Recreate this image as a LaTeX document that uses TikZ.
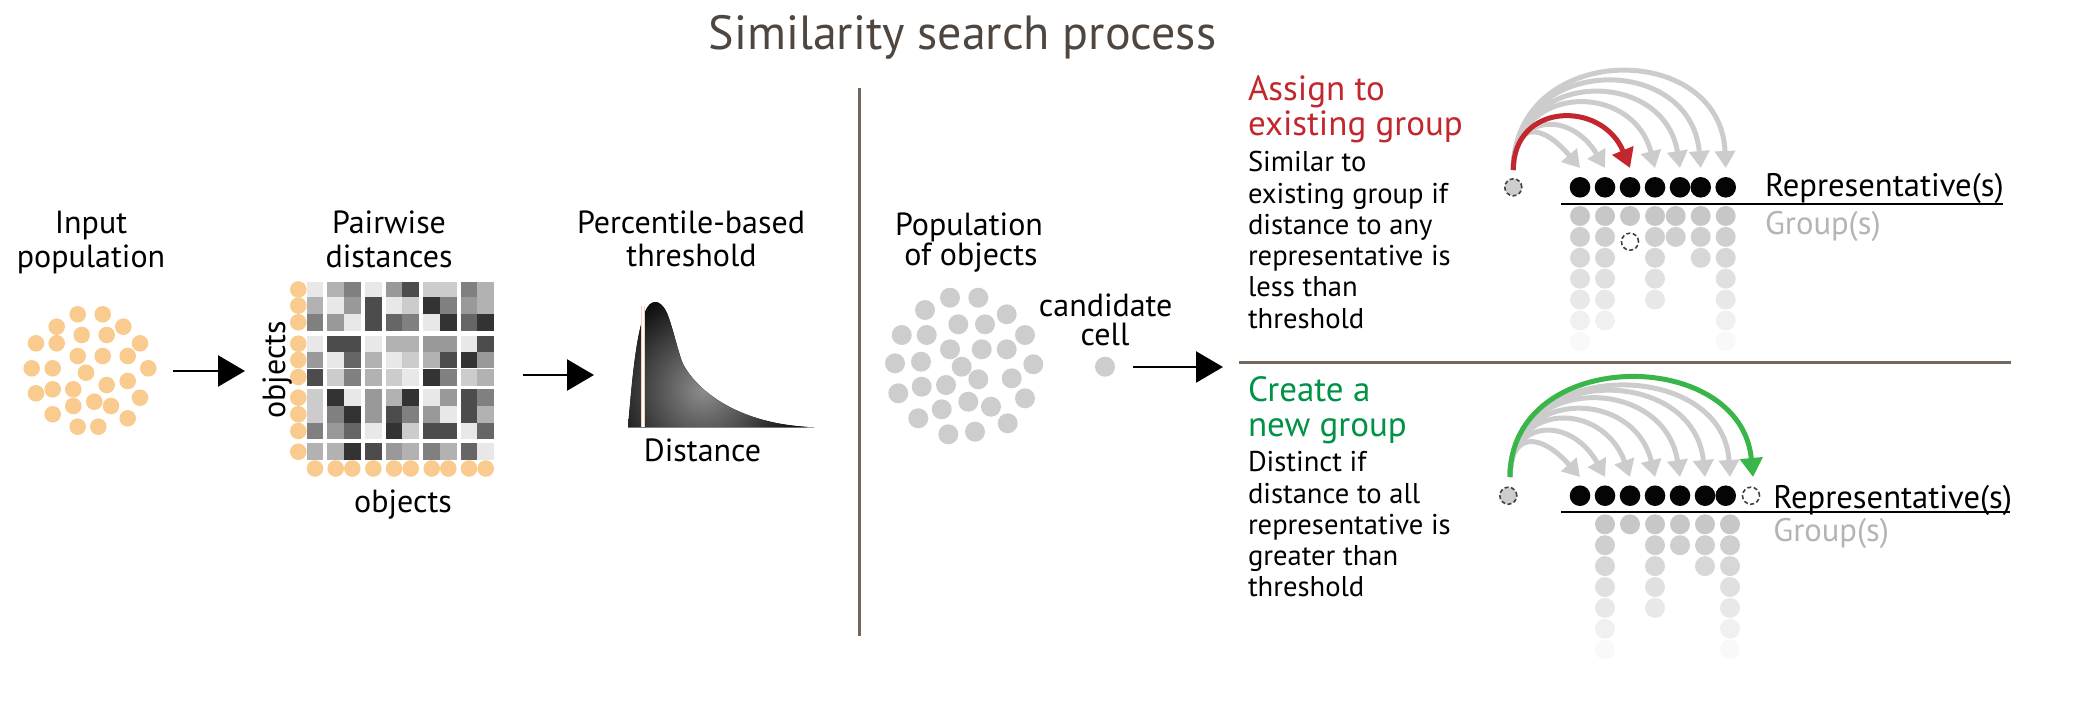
\documentclass[tikz,border=0pt]{standalone}
\usepackage{fontspec}
\setmainfont{PT Sans}
\usetikzlibrary{arrows.meta}
\definecolor{orng}{RGB}{250,203,142}
\definecolor{lgray}{RGB}{205,205,205}
\definecolor{grpgray}{RGB}{196,196,196}
\definecolor{arcgray}{RGB}{204,204,204}
\definecolor{myred}{RGB}{193,39,45}
\definecolor{mygreen}{RGB}{57,181,74}
\definecolor{txtgreen}{RGB}{0,146,69}
\definecolor{divbrown}{RGB}{117,102,92}
\definecolor{titlec}{RGB}{80,70,64}
\definecolor{grptxt}{RGB}{180,180,180}
\definecolor{peach}{RGB}{245,205,185}
\newcommand\matrowx[2]{%
  \foreach \v [count=\c] in {#2} {%
    \pgfmathsetmacro\cx{{306.7,327.3,344,365,385.7,402.3,423.3,440,460.7,477.3}[\c-1]}%
    \fill[black!\v] (\cx,#1) rectangle ++(16.7,16.6);
  }}
\newcommand\grpcolx[3]{%
  \foreach \k in {1,...,#3} {%
    \pgfmathsetmacro\op{max(0.95-0.14*(\k-1),0.08)}%
    \fill[grpgray, opacity=\op] ({#1},{#2+(\k-1)*20.9}) circle[radius=10pt];
  }}
\newcommand\twolines[3]{\vtop{\baselineskip=#1pt\lineskiplimit=-100pt\lineskip=0pt\hbox{#2}\hbox{#3}}}
\begin{document}
\begin{tikzpicture}[x=1pt,y=-1pt,
  lbl/.style={font=\fontsize{32}{34}\selectfont, anchor=base, inner sep=0pt, outer sep=0pt},
  body/.style={font=\fontsize{28.6}{31}\selectfont, anchor=base west, inner sep=0pt, outer sep=0pt},
  headr/.style={font=\fontsize{35}{35}\selectfont, anchor=base west, inner sep=0pt, outer sep=0pt, text=myred},
  headg/.style={font=\fontsize{35}{35}\selectfont, anchor=base west, inner sep=0pt, outer sep=0pt, text=txtgreen},
  rep/.style={font=\fontsize{32.6}{34}\selectfont, anchor=base west, inner sep=0pt, outer sep=0pt},
  grp/.style={font=\fontsize{32.6}{34}\selectfont, anchor=base west, inner sep=0pt, outer sep=0pt, text=grptxt},
  bdot/.style={circle, fill=black!98, minimum size=20.6pt, inner sep=0pt},
  cand/.style={circle, fill=lgray, draw=black!75, line width=1.6pt, dash pattern=on 4pt off 2.5pt, minimum size=17pt, inner sep=0pt},
  newrep/.style={circle, draw=black!75, line width=1.6pt, dash pattern=on 4pt off 2.5pt, minimum size=17pt, inner sep=0pt},
  flow/.style={line width=2.5pt, -{Triangle[width=31pt,length=27pt]}},
  garc/.style={draw=arcgray, line width=5pt, -{Triangle[width=20pt,length=17pt]}},
  divider/.style={draw=divbrown, line width=3pt},
]
\useasboundingbox (0,0) rectangle (2078,715);

% title
\node[font=\fontsize{48}{50}\selectfont, text=titlec, anchor=base, inner sep=0pt] (title) at (962.6,49.7) {Similarity search process};

% dividers
\coordinate (vtop) at (859,88);
\coordinate (vbot) at (859,636);
\draw[divider] (vtop) -- (vbot);
\coordinate (hl) at (1239,362.7);
\coordinate (hr) at (2011,362.7);
\draw[divider] (hl) -- (hr);

% ---------- section 1: input population
\node[lbl] (inp1) at (91,233) {Input};
\node[lbl] (inp2) at (91,267) {population};
\foreach \p in {(77.7,314.3),(102.7,314.3),(56.7,326.7),(123.3,326.7),(36,343.3),(56.7,343.3),(81.7,335),(106.7,335),(140,343.3),(77.7,356),(102.7,356),(127.7,356),(31.7,368.3),(52.7,368.3),(86,372.7),(148.3,368.3),(36,393.3),(52.7,389.3),(73.3,389.3),(106.7,385),(127.7,381),(140,397.7),(73.3,406),(94.3,401.7),(111,406),(52.7,414.3),(127.7,418.3),(77.7,426.7),(98.3,426.7)}
  \fill[orng] \p circle[radius=8.3pt];
\coordinate (a1s) at (173,371);
\coordinate (a1e) at (245,371);
\draw[flow] (a1s) -- (a1e);

% ---------- section 2: pairwise distances
\node[lbl] (pw1) at (389,233) {Pairwise};
\node[lbl] (pw2) at (389,267) {distances};
\matrowx{281.7}{9,30,50,9,40,70,20,20,50,30}
\matrowx{297.3}{30,9,40,70,9,20,80,50,40,30}
\matrowx{314}{50,40,9,70,60,50,9,80,60,80}
\matrowx{335.7}{9,70,70,9,30,30,40,40,9,70}
\matrowx{351.7}{40,9,60,30,9,20,30,70,80,40}
\matrowx{369}{70,20,50,30,20,9,80,50,20,30}
\matrowx{389.3}{20,80,9,40,30,80,9,40,70,50}
\matrowx{406}{20,50,80,40,70,50,40,9,70,30}
\matrowx{422.7}{50,40,60,9,80,20,70,70,9,60}
\matrowx{443.3}{30,30,80,70,40,30,50,30,60,9}
\foreach \yy in {289.5,305.6,322.3,343.7,360,377,397.6,414.3,431,451.7}
  \fill[orng] (298.3,\yy) circle[radius=8.3pt];
\foreach \xx in {315,335.7,352.3,373.3,394,410.7,431.7,448.3,469,485.7}
  \fill[orng] (\xx,468.5) circle[radius=8.3pt];
\node[lbl, rotate=90] (objl) at (285,370) {objects};
\node[lbl] (objb) at (403,512) {objects};
\coordinate (a2s) at (523,375);
\coordinate (a2e) at (594,375);
\draw[flow] (a2s) -- (a2e);

% ---------- section 3: threshold
\node[lbl] (pc1) at (691,233) {Percentile-based};
\node[lbl] (pc2) at (691.5,266) {threshold};
\begin{scope}
\clip (628,427.3) .. controls (632,380) and (636,335) .. (645,312) .. controls (650,299) and (660,298) .. (667,313) .. controls (673,328) and (678,352) .. (683,364) .. controls (698,392) and (740,425) .. (815,427.3) -- cycle;
\fill[black] (620,290) rectangle (820,430);
\shade[inner color=black!45, outer color=black] (703,390) circle[radius=110pt];
\end{scope}
\draw[peach, line width=3.6pt] (642.7,306) -- (642.7,427.3);
\draw[white, line width=2.2pt] (642.7,306) -- (642.7,427.3);
\node[lbl] (dist) at (702.5,461.7) {Distance};

% ---------- section 4: population of objects
\node[lbl] (po1) at (969,235) {Population};
\node[lbl] (po2) at (971,265) {of objects};
\foreach \p in {(950,297.7),(978.3,297.7),(925,310),(1006.7,314.3),(901.7,335),(926.7,335),(958.3,324.3),(985,324.3),(1025,335),(950,349.3),(981.7,349.3),(1006.7,349.3),(895,363.3),(921,361.7),(961.7,366.7),(1033.3,364.3),(898.3,393.3),(921.7,386.7),(946,385),(978.3,379.3),(1011.7,378.3),(1025,398.3),(941.7,409.3),(968.3,401.7),(991,406.7),(918.3,418.3),(1007.7,423.3),(948.3,434.3),(975,431.7)}
  \fill[lgray] \p circle[radius=10pt];
\node[lbl] (cc1) at (1105.7,316.7) {candidate};
\node[lbl] (cc2) at (1105,345) {cell};
\node[circle, fill=lgray, minimum size=20pt, inner sep=0pt] (ccell) at (1105,366.7) {};
\coordinate (a3s) at (1133,367);
\coordinate (a3e) at (1223,367);
\draw[flow] (a3s) -- (a3e);

% ---------- top right: assign to existing group
\node[headr] (as1) at (1248,100.5) {\twolines{35.2}{Assign to}{existing group}};
\node[body] (ab1) at (1248,171.7) {Similar to};
\node[body] (ab2) at (1248,203) {existing group if};
\node[body] (ab3) at (1248,234.3) {distance to any};
\node[body] (ab4) at (1248,265.6) {representative is};
\node[body] (ab5) at (1248,296.9) {less than};
\node[body] (ab6) at (1248,328.2) {threshold};

\grpcolx{1580}{216}{7}
\grpcolx{1605}{216}{6}
\grpcolx{1630}{216}{1}
\grpcolx{1655}{216}{5}
\grpcolx{1675.7}{216}{2}
\grpcolx{1700.7}{216}{3}
\grpcolx{1725.7}{216}{7}
\node[newrep] (dashA) at (1630,241.7) {};
\draw[black, line width=2.2pt] (1561,204) -- (2003,204);
\foreach \xx [count=\i] in {1580,1605,1630,1655,1680,1700.7,1725.7}
  \node[bdot] (ra\i) at (\xx,187.3) {};
\node[rep] (repA) at (1765,196.7) {Representative(s)};
\node[grp] (grpA) at (1765,234) {Group(s)};
\node[cand] (candA) at (1513.3,187.3) {};
\coordinate (sA) at (1513.3,170);
\foreach \xx [count=\i] in {1580,1605,1630,1655,1680,1700.7,1725.7}
  \coordinate (tA\i) at (\xx,168);
\foreach \i/\h/\c in {7/129/5,6/116/10,5/101/16,4/87/22,2/57/34,1/47/40}
  \draw[garc] (sA) .. controls +(0,-\h) and +(-\c,-\h) .. (tA\i);
\draw[draw=myred, line width=5pt, -{Triangle[width=22pt,length=19pt]}] (sA) .. controls +(0,-68) and +(-28,-68) .. (tA3);

% ---------- bottom right: create a new group
\node[headg] (cr1) at (1248,401.5) {\twolines{35.2}{Create a}{new group}};
\node[body] (cb1) at (1248,471.7) {Distinct if};
\node[body] (cb2) at (1248,503) {distance to all};
\node[body] (cb3) at (1248,534.3) {representative is};
\node[body] (cb4) at (1248,565.6) {greater than};
\node[body] (cb5) at (1248,596.9) {threshold};

\grpcolx{1605}{524.3}{7}
\grpcolx{1630}{524.3}{1}
\grpcolx{1655}{524.3}{5}
\grpcolx{1680}{524.3}{2}
\grpcolx{1705}{524.3}{3}
\grpcolx{1730}{524.3}{7}
\draw[black, line width=2.2pt] (1561,512.3) -- (2010,512.3);
\foreach \xx [count=\i] in {1580,1605,1630,1655,1680,1705,1725.7}
  \node[bdot] (rb\i) at (\xx,495.7) {};
\node[newrep] (newB) at (1751,495.7) {};
\node[rep] (repB) at (1773.3,508.3) {Representative(s)};
\node[grp] (grpB) at (1773.3,541.7) {Group(s)};
\node[cand] (candB) at (1508.3,495.7) {};
\coordinate (sB) at (1510,477);
\foreach \xx [count=\i] in {1580,1605,1630,1655,1680,1705,1730}
  \coordinate (tB\i) at (\xx,477);
\coordinate (tBn) at (1753,477);
\foreach \i/\h/\c in {7/120/7,6/113/11,5/103/16,4/89/21,3/76/27,2/60/33,1/45/40}
  \draw[garc] (sB) .. controls +(0,-\h) and +(-\c,-\h) .. (tB\i);
\draw[draw=mygreen, line width=5pt, -{Triangle[width=22pt,length=19pt]}] (sB) .. controls +(0,-131) and +(-12,-131) .. (tBn);
\end{tikzpicture}
\end{document}
